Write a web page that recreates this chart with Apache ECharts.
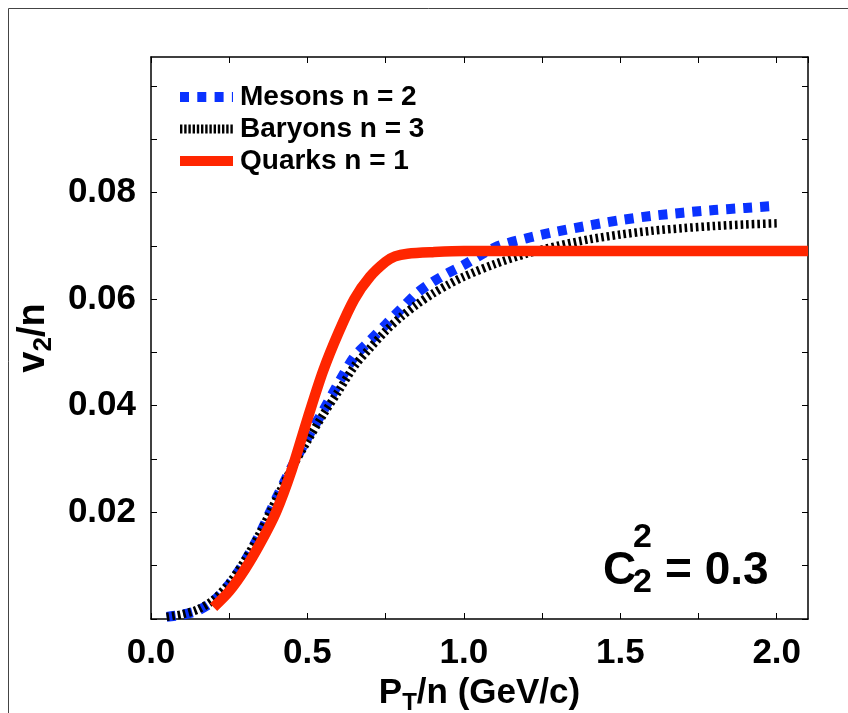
<!DOCTYPE html>
<html>
<head>
<meta charset="utf-8">
<script src="https://cdn.jsdelivr.net/npm/echarts@6/dist/echarts.min.js"></script>
<style>html,body{margin:0;padding:0;background:#fff}#c{width:848px;height:713px}</style>
</head>
<body>
<div id="c"></div>
<script>
// ---- data ----
var mesonX  = [0.05,0.10,0.15,0.20,0.25,0.30,0.35,0.40,0.45,0.50,0.55,0.60,0.65,0.70,0.75,0.80,0.85,0.90,0.95,1.00,1.10,1.20,1.30,1.40,1.50,1.60,1.70,1.80,1.90,2.00];
var mesonY  = [0.0004,0.0008,0.0016,0.0034,0.0065,0.0108,0.0162,0.0225,0.0285,0.0340,0.0390,0.0443,0.0492,0.0522,0.0552,0.0582,0.0611,0.0632,0.0649,0.0664,0.0697,0.0714,0.0727,0.0738,0.0748,0.0756,0.0762,0.0767,0.0771,0.0775];
var baryonX = [0.05,0.10,0.15,0.20,0.25,0.30,0.35,0.40,0.45,0.50,0.55,0.60,0.65,0.70,0.75,0.80,0.85,0.90,0.95,1.00,1.10,1.20,1.30,1.40,1.50,1.60,1.70,1.80,1.90,2.00];
var baryonY = [0.0004,0.0009,0.0018,0.0036,0.0067,0.0110,0.0163,0.0224,0.0283,0.0334,0.0383,0.0428,0.0474,0.0508,0.0540,0.0567,0.0590,0.0610,0.0627,0.0642,0.0666,0.0685,0.0700,0.0712,0.0721,0.0728,0.0733,0.0737,0.0740,0.0742];
var quarkX  = [0.20,0.25,0.30,0.35,0.40,0.45,0.50,0.55,0.60,0.65,0.70,0.75,0.78,0.82,0.90,1.00,1.20,1.50,1.80,2.10];
var quarkY  = [0.0022,0.0052,0.0093,0.0143,0.0201,0.0280,0.0375,0.0465,0.0538,0.0600,0.0642,0.0670,0.0680,0.0685,0.0688,0.0690,0.0690,0.0690,0.0690,0.0690];
var seriesNames = ['Mesons n = 2','Baryons n = 3','Quarks n = 1'];
var xTickLabels = ['0.0','0.5','1.0','1.5','2.0'];
var yTickLabels = ['0.02','0.04','0.06','0.08'];

function pairs(xs, ys){ return xs.map(function(x,i){ return [x, ys[i]]; }); }
var FF = '"Liberation Sans", Arial, Helvetica, sans-serif';

var chart = echarts.init(document.getElementById('c'), null, {renderer:'canvas'});
function mkLine(){ return {show:true, onZero:false, lineStyle:{color:'#000', width:1.5}}; }
function mkTick(){ return {show:true, inside:true, length:6, lineStyle:{color:'#000', width:1}}; }

function xFmt(v){
  for (var i=0;i<xTickLabels.length;i++){ if (Math.abs(parseFloat(xTickLabels[i])-v)<1e-6) return xTickLabels[i]; }
  return '';
}
function yFmt(v){
  for (var i=0;i<yTickLabels.length;i++){ if (Math.abs(parseFloat(yTickLabels[i])-v)<1e-7) return yTickLabels[i]; }
  return '';
}

var blueStyle  = {color:'#0a32ff', width:10, type:[9,8], cap:'butt'};
var blackStyle = {color:'#000', width:8.5, type:[2.6,3], cap:'butt'};
var redStyle   = {color:'#ff2600', width:10.5, cap:'butt'};

var option = {
  animation:false,
  backgroundColor:'#fff',
  grid:{left:151, top:57, width:657, height:562, containLabel:false, outerBoundsMode:'none'},
  legend:{
    show:true, left:170, top:78, orient:'vertical',
    itemWidth:53, itemHeight:10, itemGap:4,
    itemStyle:{opacity:0},
    data:[
      {name:seriesNames[0], lineStyle:{width:10, type:[9,8.3], color:'#0a32ff', cap:'butt'}},
      {name:seriesNames[1], lineStyle:{width:9, type:[2.4,1.8], color:'#000', cap:'butt'}},
      {name:seriesNames[2], lineStyle:{width:10, color:'#ff2600', cap:'butt'}}
    ],
    textStyle:{fontFamily:FF, fontWeight:'bold', fontSize:28, color:'#000', lineHeight:28, padding:[0,0,0,2]}
  },
  xAxis:[{
    type:'value', min:0, max:2.1, interval:0.25, position:'bottom',
    axisLine:mkLine(), axisTick:mkTick(), splitLine:{show:false},
    axisLabel:{formatter:xFmt, margin:17, fontFamily:FF, fontWeight:'bold', fontSize:35, color:'#000', showMaxLabel:false},
    name:'{a|P}{s|T}{a|/n (GeV/c)}', nameLocation:'middle', nameGap:50,
    nameTextStyle:{rich:{
      a:{fontFamily:FF, fontWeight:'bold', fontSize:35, color:'#000', lineHeight:44, verticalAlign:'middle'},
      s:{fontFamily:FF, fontWeight:'bold', fontSize:24, color:'#000', lineHeight:26, verticalAlign:'bottom'}
    }}
  },{
    type:'value', min:0, max:2.1, interval:0.25, position:'top',
    axisLine:mkLine(), axisTick:mkTick(), axisLabel:{show:false}, splitLine:{show:false}
  }],
  yAxis:[{
    type:'value', min:0, max:0.1054, interval:0.01, position:'left',
    axisLine:mkLine(), axisTick:mkTick(), splitLine:{show:false},
    axisLabel:{formatter:yFmt, margin:15, fontFamily:FF, fontWeight:'bold', fontSize:35, color:'#000', showMaxLabel:false},
    name:'{a|v}{s|2}{a|/n}', nameLocation:'middle', nameRotate:90, nameGap:93,
    nameTextStyle:{rich:{
      a:{fontFamily:FF, fontWeight:'bold', fontSize:38, color:'#000', lineHeight:46, verticalAlign:'middle'},
      s:{fontFamily:FF, fontWeight:'bold', fontSize:26, color:'#000', lineHeight:28, verticalAlign:'bottom'}
    }}
  },{
    type:'value', min:0, max:0.1054, interval:0.01, position:'right',
    axisLine:mkLine(), axisTick:mkTick(), axisLabel:{show:false}, splitLine:{show:false}
  }],
  series:[
    {name:seriesNames[0], type:'line', data:pairs(mesonX, mesonY), showSymbol:false, symbol:'none', smooth:0.3,
     lineStyle:blueStyle, itemStyle:{color:'#0a32ff'}, z:2},
    {name:seriesNames[1], type:'line', data:pairs(baryonX, baryonY), showSymbol:false, symbol:'none', smooth:0.3,
     lineStyle:blackStyle, itemStyle:{color:'#000'}, z:3},
    {name:seriesNames[2], type:'line', data:pairs(quarkX, quarkY), showSymbol:false, symbol:'none', smooth:0.3,
     lineStyle:redStyle, itemStyle:{color:'#ff2600'}, z:4}
  ],
  graphic:[
    {type:'rect', silent:true, shape:{x:8.5, y:8.5, width:900, height:800}, style:{fill:null, stroke:'#444', lineWidth:1}, z:-10},
    {type:'text', silent:true, left:603, top:548, style:{text:'C', font:'bold 46px '+FF, fill:'#000'}},
    {type:'text', silent:true, left:633, top:521, style:{text:'2', font:'bold 34px '+FF, fill:'#000'}},
    {type:'text', silent:true, left:633, top:566, style:{text:'2', font:'bold 34px '+FF, fill:'#000'}},
    {type:'text', silent:true, left:665, top:548, style:{text:'= 0.3', font:'bold 46px '+FF, fill:'#000'}}
  ]
};
chart.setOption(option);
</script>
</body>
</html>
